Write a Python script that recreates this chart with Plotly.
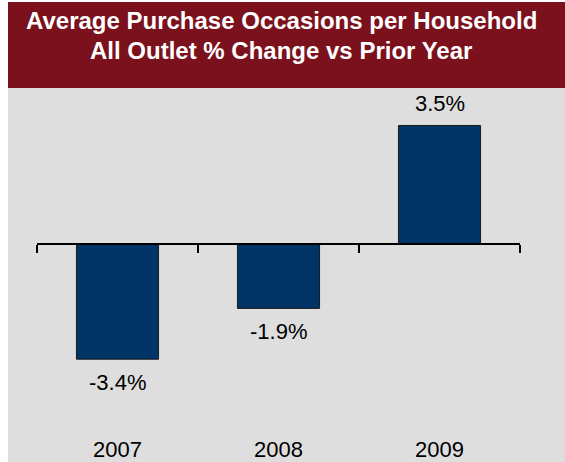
import plotly.graph_objects as go

# данные
years = ["2007", "2008", "2009"]
change_pct = [-3.4, -1.9, 3.5]
title_lines = ["Average Purchase Occasions per Household",
               "All Outlet % Change vs Prior Year"]

# цвета
banner_red = "#7A111C"
panel_grey = "#DEDEDE"
bar_blue = "#003366"

W, H = 565, 462
ml, mr, mt, mb = 37, 45, 95, 30
pw, ph = W - ml - mr, H - mt - mb
y_lo, y_hi = -5.55, 4.4


def px_x(p):
    return (p - ml) / pw


def px_y(p):
    return (H - mb - p) / ph


fig = go.Figure()
fig.add_trace(go.Bar(
    x=years,
    y=change_pct,
    width=0.51,
    marker=dict(color=bar_blue, line=dict(color="#1a1a1a", width=1)),
    hoverinfo="skip",
))

# подписи значений (x — индекс категории)
for i, v in enumerate(change_pct):
    fig.add_annotation(
        x=i, y=v, xref="x", yref="y",
        text=f"{v:.1f}%",
        showarrow=False,
        yanchor="bottom" if v > 0 else "top",
        yshift=7 if v > 0 else -9,
        font=dict(size=22, color="black"),
    )

# годы внизу
for i, yr in enumerate(years):
    fig.add_annotation(
        x=i, y=px_y(449), xref="x", yref="paper",
        text=yr, showarrow=False, yanchor="middle",
        font=dict(size=22, color="black"),
    )

# заголовок
for i, line in enumerate(title_lines):
    fig.add_annotation(
        x=px_x(281), y=px_y(21 + 30 * i), xref="paper", yref="paper",
        text=f"<b>{line}</b>", showarrow=False,
        xanchor="center", yanchor="middle",
        font=dict(size=24, color="white"),
    )

# фон: серая панель и красная плашка
fig.add_shape(type="rect", xref="paper", yref="paper", layer="below",
              x0=px_x(8), x1=px_x(W), y0=px_y(H), y1=px_y(88),
              fillcolor=panel_grey, line_width=0)
fig.add_shape(type="rect", xref="paper", yref="paper", layer="below",
              x0=px_x(8), x1=px_x(W), y0=px_y(88), y1=px_y(2),
              fillcolor=banner_red, line_width=0)

fig.update_layout(
    width=W, height=H,
    margin=dict(l=ml, r=mr, t=mt, b=mb),
    paper_bgcolor="white",
    plot_bgcolor=panel_grey,
    showlegend=False,
    font=dict(family="Liberation Sans, Arial, sans-serif", color="black"),
    xaxis=dict(
        type="category",
        anchor="free",
        position=(0 - y_lo) / (y_hi - y_lo),
        tickson="boundaries",
        ticks="outside", ticklen=8, tickwidth=1.5, tickcolor="black",
        showline=True, linecolor="black", linewidth=1.5,
        showticklabels=False, showgrid=False, zeroline=False,
        range=[-0.5, 2.5],
    ),
    yaxis=dict(
        range=[y_lo, y_hi], visible=False, showgrid=False, zeroline=False,
    ),
)

fig.write_html("out.html", config={"displayModeBar": False},
               post_script="document.body.style.margin='0';")
